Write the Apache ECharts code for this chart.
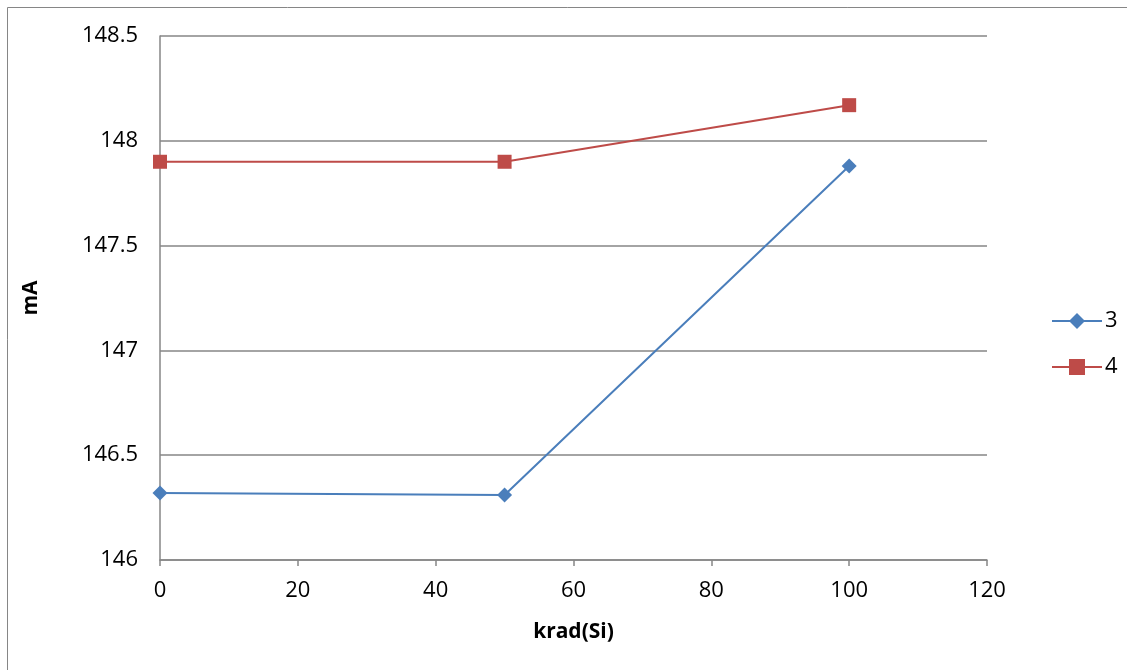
<!DOCTYPE html>
<html><head><meta charset="utf-8">
<script src="https://cdn.jsdelivr.net/npm/echarts@6/dist/echarts.min.js"></script>
<style>html,body{margin:0;padding:0;background:#fff}#c{width:1127px;height:670px}</style>
</head><body><div id="c"></div>
<script>
const xValues = [0, 50, 100];
const series3 = [146.32, 146.31, 147.88];
const series4 = [147.90, 147.90, 148.17];
const seriesNames = ['3', '4'];
const xTickLabels = ['0','20','40','60','80','100','120'];
const yTickLabels = ['146','146.5','147','147.5','148','148.5'];

const font = 'Open Sans';
const chart = echarts.init(document.getElementById('c'));
chart.setOption({
  animation: false,
  backgroundColor: '#fff',
  graphic: [{type:'rect', shape:{x:7.5,y:7.5,width:1140,height:680}, style:{fill:'none',stroke:'#868686',lineWidth:1}, silent:true}],
  grid: {left:160, right:140, top:36, bottom:110},
  legend: {
    orient:'vertical', left:1046, top:305, itemGap:24, itemWidth:50, itemHeight:20,
    textStyle:{fontFamily:font, fontSize:22, color:'#000', padding:[0,0,0,-2]},
    data: seriesNames
  },
  xAxis: {
    type:'value', min:0, max:120, interval:20,
    name:'krad(Si)', nameLocation:'middle', nameGap:62,
    nameTextStyle:{fontFamily:font, fontSize:21, fontWeight:'bold', color:'#000'},
    axisLine:{lineStyle:{color:'#868686', width:1.5}},
    axisTick:{show:true, length:6, lineStyle:{color:'#868686', width:1.5}},
    axisLabel:{fontFamily:font, fontSize:22, color:'#000', margin:20,
      formatter:(v)=>xTickLabels[Math.round(v/20)]},
    splitLine:{show:false}
  },
  yAxis: {
    type:'value', min:146, max:148.5, interval:0.5,
    name:'mA', nameLocation:'middle', nameGap:118, nameRotate:90,
    nameTextStyle:{fontFamily:font, fontSize:21, fontWeight:'bold', color:'#000'},
    axisLine:{show:true, lineStyle:{color:'#868686', width:1.5}},
    axisTick:{show:false},
    axisLabel:{fontFamily:font, fontSize:22, color:'#000', margin:22,
      formatter:(v)=>yTickLabels[Math.round((v-146)/0.5)]},
    splitLine:{lineStyle:{color:'#868686', width:1.5}}
  },
  series: [
    {name:seriesNames[0], type:'line', data:xValues.map((x,i)=>[x,series3[i]]),
     symbol:'diamond', symbolSize:15, color:'#4a7ebb',
     lineStyle:{width:2, color:'#4a7ebb'}, itemStyle:{color:'#4a7ebb'}},
    {name:seriesNames[1], type:'line', data:xValues.map((x,i)=>[x,series4[i]]),
     symbol:'rect', symbolSize:14, color:'#be4b48',
     lineStyle:{width:2, color:'#be4b48'}, itemStyle:{color:'#be4b48'}}
  ]
});
</script></body></html>
